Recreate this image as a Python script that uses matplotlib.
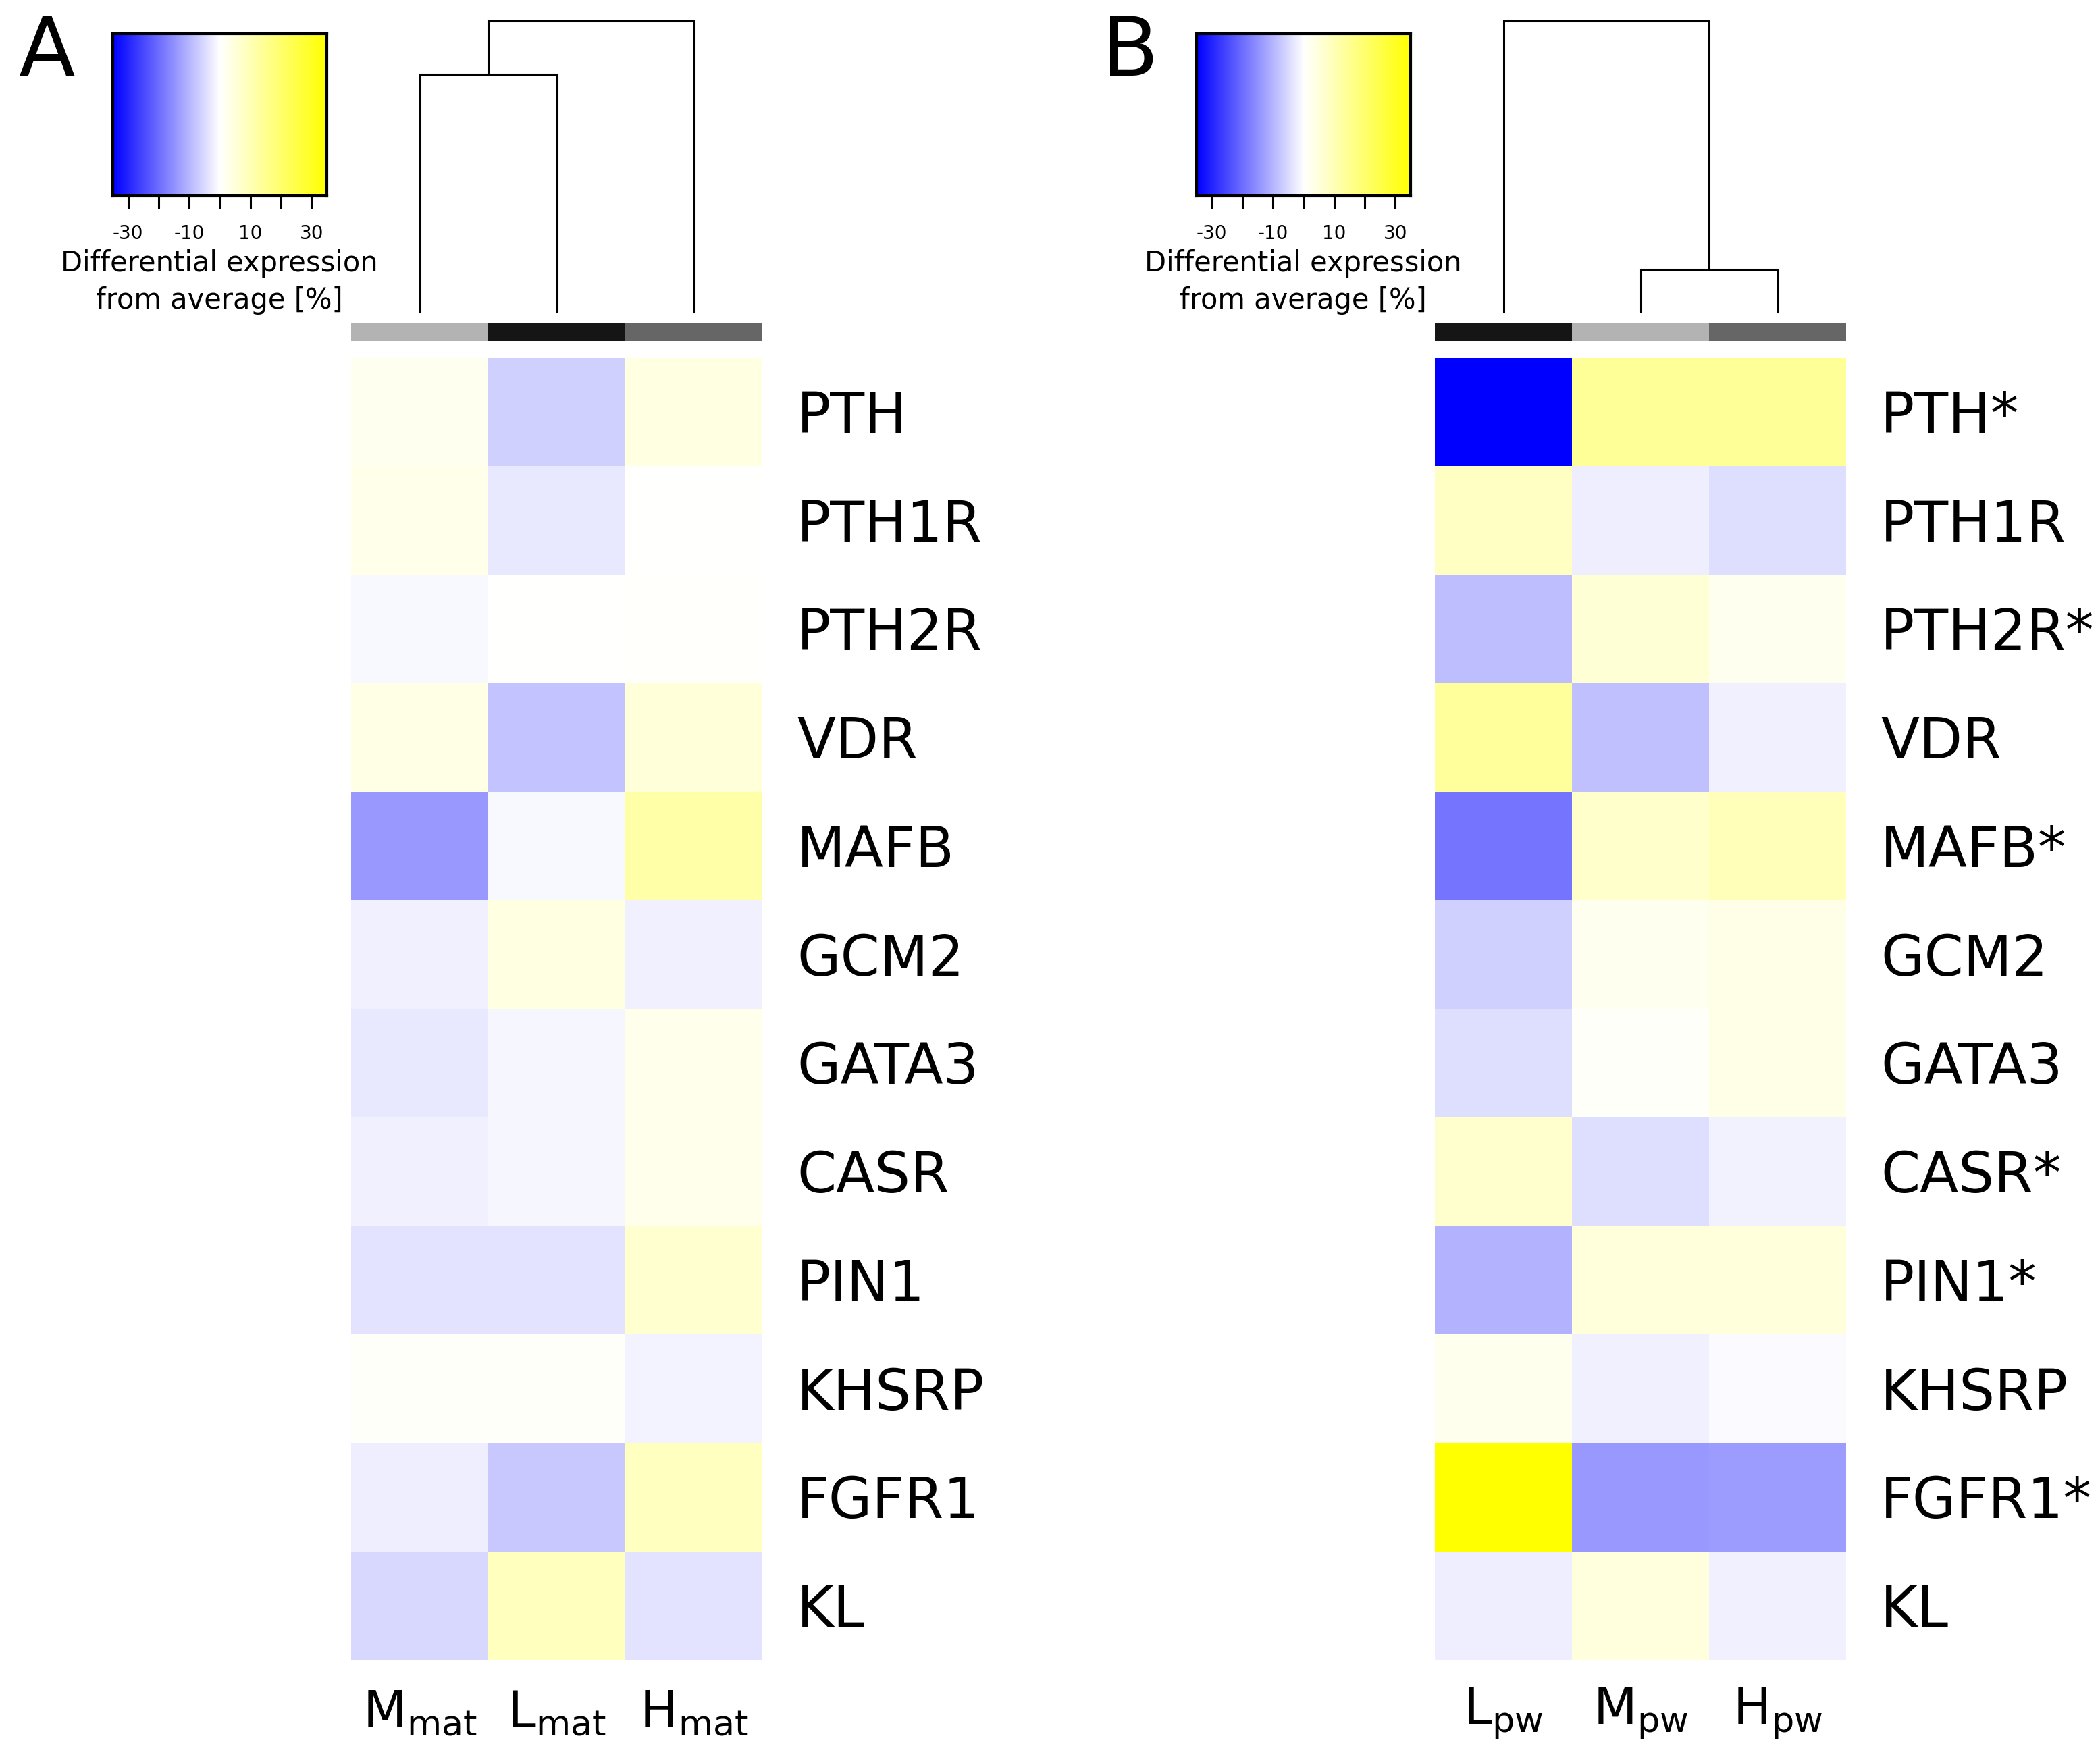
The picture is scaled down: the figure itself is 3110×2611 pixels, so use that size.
import numpy as np
import matplotlib
matplotlib.use('Agg')
import matplotlib.pyplot as plt
from matplotlib.colors import LinearSegmentedColormap

plt.rcParams['font.family'] = ['DejaVu Sans']
plt.rcParams['mathtext.default'] = 'regular'

# data (differential expression from average, %)
genes_a = ['PTH', 'PTH1R', 'PTH2R', 'VDR', 'MAFB', 'GCM2', 'GATA3', 'CASR',
           'PIN1', 'KHSRP', 'FGFR1', 'KL']
genes_b = ['PTH*', 'PTH1R', 'PTH2R*', 'VDR', 'MAFB*', 'GCM2', 'GATA3', 'CASR*',
           'PIN1*', 'KHSRP', 'FGFR1*', 'KL']

groups_a = ['M', 'L', 'H']
groups_b = ['L', 'M', 'H']
suffix_a = 'mat'
suffix_b = 'pw'

# columns in the order above
values_a = [
    [2.0, -6.5, 4.0],
    [3.0, -3.2, 0.2],
    [-1.0, 0.0, 0.3],
    [3.5, -8.0, 5.0],
    [-14.0, -1.0, 12.0],
    [-2.0, 4.0, -2.0],
    [-3.2, -1.1, 2.7],
    [-2.0, -1.1, 2.7],
    [-3.8, -3.8, 6.3],
    [0.8, 0.8, -1.4],
    [-2.2, -7.6, 8.7],
    [-5.3, 9.0, -3.8],
]
values_b = [
    [-35.0, 14.0, 14.2],
    [8.0, -2.3, -4.4],
    [-8.8, 5.6, 2.0],
    [13.5, -8.5, -2.0],
    [-19.0, 7.0, 9.4],
    [-6.5, 2.0, 3.2],
    [-4.5, 0.7, 3.2],
    [6.6, -4.5, -1.8],
    [-10.5, 4.8, 4.8],
    [2.3, -2.0, -0.7],
    [35.0, -14.0, -13.5],
    [-2.3, 4.6, -2.0],
]

# dendrogram merges: (left member, right member, height); leaves 0..2, merges 3..
merges_a = [(0, 1, 0.817), (3, 2, 1.0)]
merges_b = [(1, 2, 0.146), (0, 3, 1.0)]

group_colors = {'M': '#b3b3b3', 'L': '#151515', 'H': '#666666'}
cb_ticks = [-30, -20, -10, 0, 10, 20, 30]
cb_labels = ['-30', '', '-10', '', '10', '', '30']

cmap = LinearSegmentedColormap.from_list('bwy', ['#0000ff', '#ffffff', '#ffff00'])
VMAX = 35

W, H = 3110, 2611
fig = plt.figure(figsize=(W / 200, H / 200), dpi=200)


def box(x0, y0, x1, y1):
    # pixel box (top-left origin) to figure fraction rect
    return [x0 / W, 1 - y1 / H, (x1 - x0) / W, (y1 - y0) / H]


def draw_panel(dx, letter, genes, groups, suffix, values, merges):
    hx0, hx1 = 520 + dx, 1129 + dx
    hy0, hy1 = 530, 2459

    # heatmap
    ax = fig.add_axes(box(hx0, hy0, hx1, hy1))
    ax.imshow(np.array(values), cmap=cmap, vmin=-VMAX, vmax=VMAX,
              aspect='auto', interpolation='nearest')
    ax.set_axis_off()

    n = len(genes)
    rh = (hy1 - hy0) / n
    for i, g in enumerate(genes):
        fig.text((hx1 + 51) / W, 1 - (hy0 + rh * (i + 0.5) + 7) / H, g,
                 fontsize=30, ha='left', va='center')

    cw = (hx1 - hx0) / len(groups)
    for j, g in enumerate(groups):
        fig.text((hx0 + cw * (j + 0.5)) / W, 1 - 2538 / H,
                 g + r'$_{\mathrm{' + suffix + '}}$',
                 fontsize=27, ha='center', va='center')

    # group colour bar
    axc = fig.add_axes(box(hx0, 479, hx1, 505))
    for j, g in enumerate(groups):
        axc.axvspan(j - 0.5, j + 0.5, color=group_colors[g], lw=0)
    axc.set_xlim(-0.5, len(groups) - 0.5)
    axc.set_axis_off()

    # dendrogram
    axd = fig.add_axes(box(hx0, 31, hx1, 462))
    pos = {k: (float(k), 0.0) for k in range(len(groups))}
    for m, (a, b, h) in enumerate(merges):
        xa, ha = pos[a]
        xb, hb = pos[b]
        axd.plot([xa, xa, xb, xb], [ha, h, h, hb], color='black', lw=1.1,
                 solid_joinstyle='miter', clip_on=False)
        pos[len(groups) + m] = ((xa + xb) / 2, h)
    axd.set_xlim(-0.5, len(groups) - 0.5)
    axd.set_ylim(0, 1)
    axd.set_axis_off()

    # colour key
    axk = fig.add_axes(box(167 + dx, 50, 484 + dx, 290))
    grad = np.linspace(-VMAX, VMAX, 256)[None, :]
    axk.imshow(grad, cmap=cmap, vmin=-VMAX, vmax=VMAX, aspect='auto',
               extent=(-VMAX, VMAX, 0, 1))
    axk.set_xticks(cb_ticks)
    axk.set_xticklabels(cb_labels, fontsize=10)
    axk.set_yticks([])
    axk.tick_params(axis='x', direction='out', length=7, width=1.1, pad=8)
    for s in axk.spines.values():
        s.set_linewidth(1.5)
    fig.text((325 + dx) / W, 1 - 390 / H, 'Differential expression',
             fontsize=15, ha='center', va='center')
    fig.text((325 + dx) / W, 1 - 445 / H, 'from average [%]',
             fontsize=15, ha='center', va='center')

    fig.text((27 + dx) / W, 1 - 112 / H, letter, fontsize=44,
             ha='left', va='baseline')


draw_panel(0, 'A', genes_a, groups_a, suffix_a, values_a, merges_a)
draw_panel(1605, 'B', genes_b, groups_b, suffix_b, values_b, merges_b)

fig.savefig('out.png', dpi=200, facecolor='white')
